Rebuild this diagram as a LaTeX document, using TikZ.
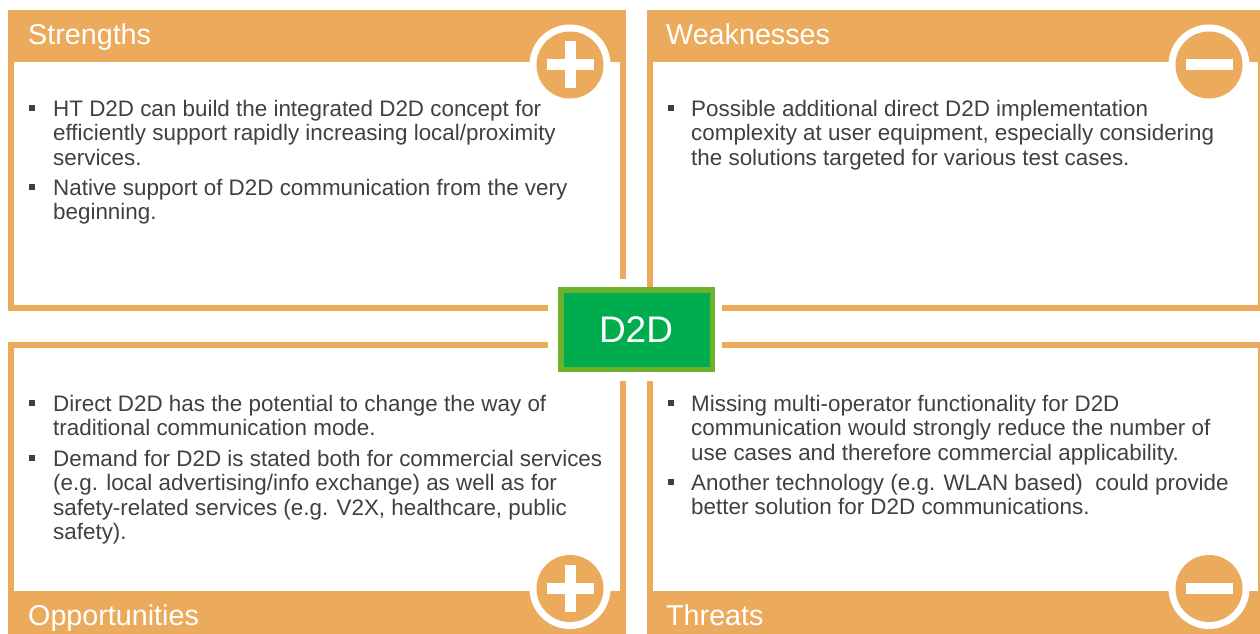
\documentclass[tikz,border=0pt]{standalone}
\usepackage{fontspec}
\setmainfont{Liberation Sans}
\definecolor{orangeband}{RGB}{236,170,92}
\definecolor{greenfill}{RGB}{0,173,78}
\definecolor{greenedge}{RGB}{109,176,43}
\definecolor{bodytext}{RGB}{64,64,64}
\newcommand{\bodysize}{\fontsize{22.4}{24.6}\selectfont}
\tikzset{
  x=1pt,y=-1pt,
  band/.style={fill=orangeband,draw=none},
  ring/.style={circle,fill=white,draw=none,minimum size=81pt,inner sep=0pt},
  disc/.style={circle,fill=orangeband,draw=none,minimum size=67pt,inner sep=0pt},
  sign/.style={fill=white,draw=none},
  heading/.style={anchor=base west,text=white,inner sep=0pt,font=\fontsize{28.7}{30}\selectfont},
  bodyblock/.style={anchor=base west,text=bodytext,inner sep=0pt,align=left,font=\bodysize},
  bullet/.style={fill=bodytext,draw=none,minimum size=6.5pt,inner sep=0pt,anchor=center},
}
\begin{document}
\begin{tikzpicture}
\useasboundingbox (0,0) rectangle (1260,634);
\fill[white] (0,0) rectangle (1260,634);
% Strengths frame
\fill[band] (8,10) rectangle (626,62);
\fill[band] (8,62) rectangle (13.5,311);
\fill[band] (8,305) rectangle (548,311);
\fill[band] (620,62) rectangle (626,279);
% Weaknesses frame
\fill[band] (647,10) rectangle (1260,62);
\fill[band] (647,62) rectangle (653,311);
\fill[band] (722,305) rectangle (1260,311);
\fill[band] (1258,62) rectangle (1260,311);
% Opportunities frame
\fill[band] (8,342) rectangle (548,348);
\fill[band] (8,348) rectangle (13.5,634);
\fill[band] (8,591) rectangle (626,634);
\fill[band] (620,381) rectangle (626,634);
% Threats frame
\fill[band] (722,342) rectangle (1260,348);
\fill[band] (647,381) rectangle (653,634);
\fill[band] (647,591) rectangle (1260,634);
\fill[band] (1258,348) rectangle (1260,634);
% rings (clipped to the header bands)
\begin{scope}
\clip (500,10) rectangle (626,62);
\node[ring] (ringS) at (570,65) {};
\end{scope}
\begin{scope}
\clip (1150,10) rectangle (1260,62);
\node[ring] (ringW) at (1209,65) {};
\end{scope}
\begin{scope}
\clip (500,591) rectangle (626,634);
\node[ring] (ringO) at (570,588.5) {};
\end{scope}
\begin{scope}
\clip (1150,591) rectangle (1260,634);
\node[ring] (ringT) at (1209,588.5) {};
\end{scope}
\node[disc] (discS) at (570,65) {};
\node[disc] (discW) at (1209,65) {};
\node[disc] (discO) at (570,588.5) {};
\node[disc] (discT) at (1209,588.5) {};
% signs
\fill[sign] (546.5,59) rectangle (594,70);
\fill[sign] (565,41) rectangle (576,88);
\fill[sign] (1186,59) rectangle (1233,70);
\fill[sign] (547,583) rectangle (594,594);
\fill[sign] (565,565) rectangle (576,612);
\fill[sign] (1186,583) rectangle (1233,594);
% centre
\node[fill=greenfill,draw=greenedge,line width=5.5pt,minimum width=151.5pt,minimum height=79.5pt,inner sep=0pt,text=white,font=\fontsize{37}{40}\selectfont] (centre) at (636.5,329.5) {\kern-1pt D2D};
% headings
\node[heading] (hS) at (28,45) {Strengths};
\node[heading] (hW) at (666,45) {Weaknesses};
\node[heading] (hO) at (28,625) {Opportunities};
\node[heading] (hT) at (666,625) {Threats};
% Strengths
\node[bullet] (b1) at (32,108) {};
\node[bodyblock] (t1) at (53,165.2) {HT D2D can build the integrated D2D concept for\\efficiently support rapidly increasing local/proximity\\services.};
\node[bullet] (b2) at (32,187) {};
\node[bodyblock] (t2) at (53,219.6) {Native support of D2D communication from the very\\beginning.};
% Weaknesses
\node[bullet] (b3) at (671,108) {};
\node[bodyblock] (t3) at (691,165.2) {Possible additional direct D2D implementation\\complexity at user equipment, especially considering\\the solutions targeted for various test cases.};
% Opportunities
\node[bullet] (b4) at (32,403) {};
\node[bodyblock] (t4) at (53,435.6) {Direct D2D has the potential to change the way of\\traditional communication mode.};
\node[bullet] (b5) at (32,458) {};
\node[bodyblock] (t5) at (53,539.8) {Demand for D2D is stated both for commercial services\\(e.g. local advertising/info exchange) as well as for\\safety-related services (e.g. V2X, healthcare, public\\safety).};
% Threats
\node[bullet] (b6) at (671,403) {};
\node[bodyblock] (t6) at (691,460.2) {Missing multi-operator functionality for D2D\\communication would strongly reduce the number of\\use cases and therefore commercial applicability.};
\node[bullet] (b7) at (671,482) {};
\node[bodyblock] (t7) at (691,514.6) {Another technology (e.g. WLAN based)~ could provide\\better solution for D2D communications.};
\end{tikzpicture}
\end{document}
